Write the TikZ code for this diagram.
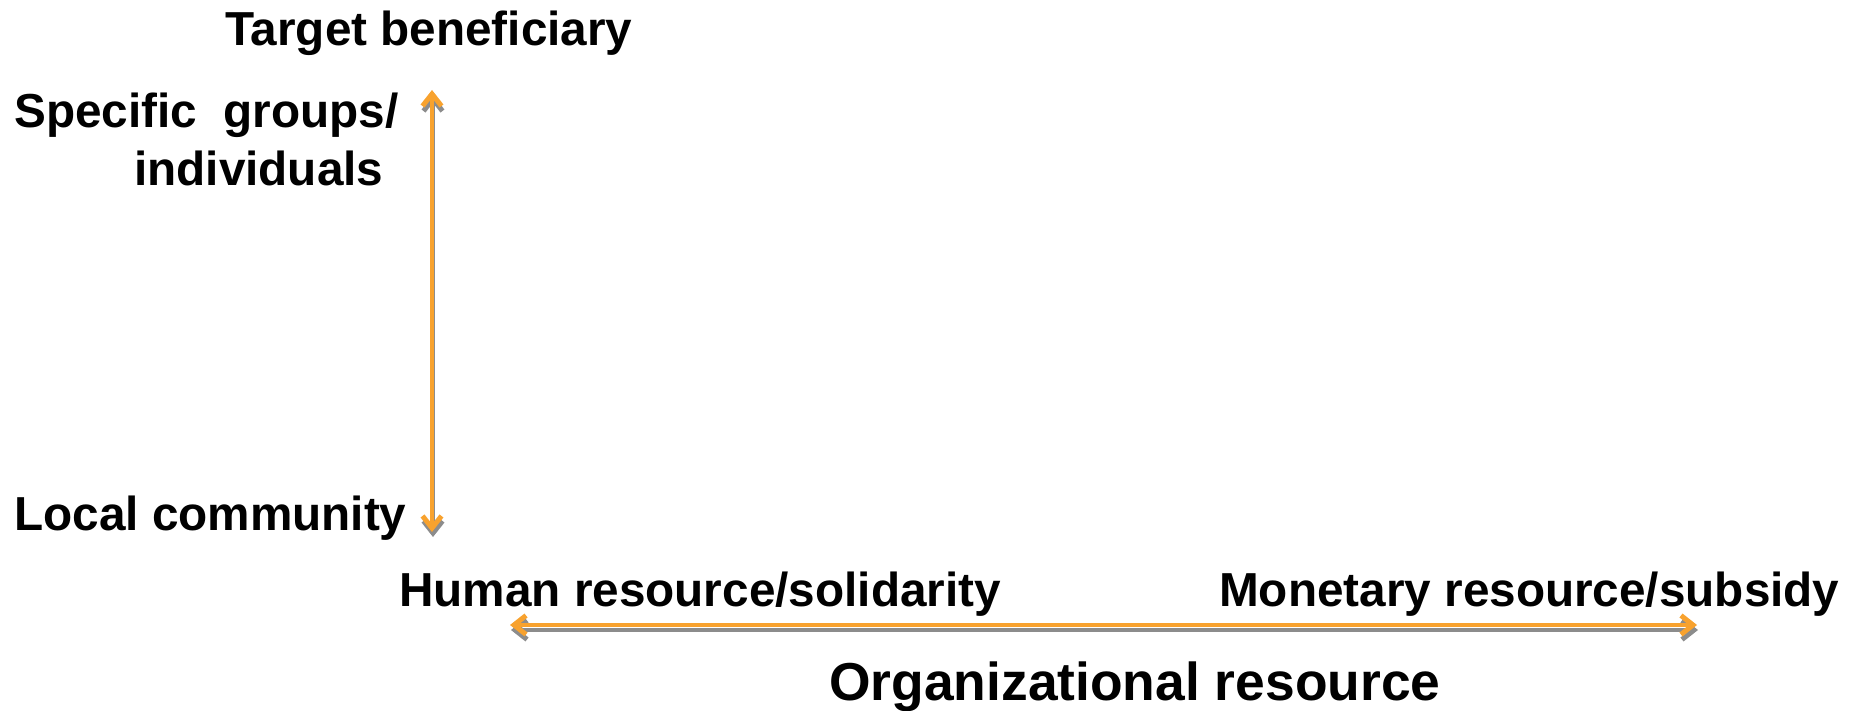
\documentclass[tikz,border=0pt]{standalone}
\usepackage{fontspec}
\setmainfont{Liberation Sans}
\usetikzlibrary{positioning,arrows.meta}

\definecolor{axisorange}{HTML}{F8A22E}
\definecolor{axisgray}{HTML}{8C8C8C}

\begin{document}
\begin{tikzpicture}[x=1pt, y=-1pt,
  % Node Styles
  axlabel/.style={inner sep=0pt, anchor=base west, text=black, font=\bfseries\fontsize{47.7}{56}\selectfont},
  axtitle/.style={inner sep=0pt, anchor=base west, text=black, font=\bfseries\fontsize{53.4}{62}\selectfont},
  % Arrow Styles
  axbarb/.tip={Straight Barb[length=12pt,width=19pt,line width=5pt]},
  orangearrow/.style={axbarb-axbarb, line width=4pt, draw=axisorange},
  grayarrow/.style={axbarb-axbarb, line width=4pt, draw=axisgray},
]
\useasboundingbox (0,0) rectangle (1858,711);

% Labels
\node[axlabel] (target) at (225,46) {Target beneficiary};
\node[axlabel] (specific) at (14,128) {Specific~ groups/};
\node[axlabel] (individuals) at (134,186) {individuals};
\node[axlabel] (local) at (14,530) {Local community};
\node[axlabel] (human) at (399,606) {Human resource/solidarity};
\node[axlabel] (monetary) at (1219,606) {Monetary resource/subsidy};
\node[axtitle] (orgres) at (829,700) {Organizational resource};

% Axis ends
\coordinate (vtop) at (432,90);
\coordinate (vbot) at (432,532);
\coordinate (hleft) at (510,625);
\coordinate (hright) at (1697,625);

\draw[grayarrow] ([shift={(1,5)}]vtop) -- ([shift={(1,5)}]vbot);
\draw[grayarrow] ([shift={(1,5)}]hleft) -- ([shift={(1,5)}]hright);
\draw[orangearrow] (vtop) -- (vbot);
\draw[orangearrow] (hleft) -- (hright);

\end{tikzpicture}
\end{document}
